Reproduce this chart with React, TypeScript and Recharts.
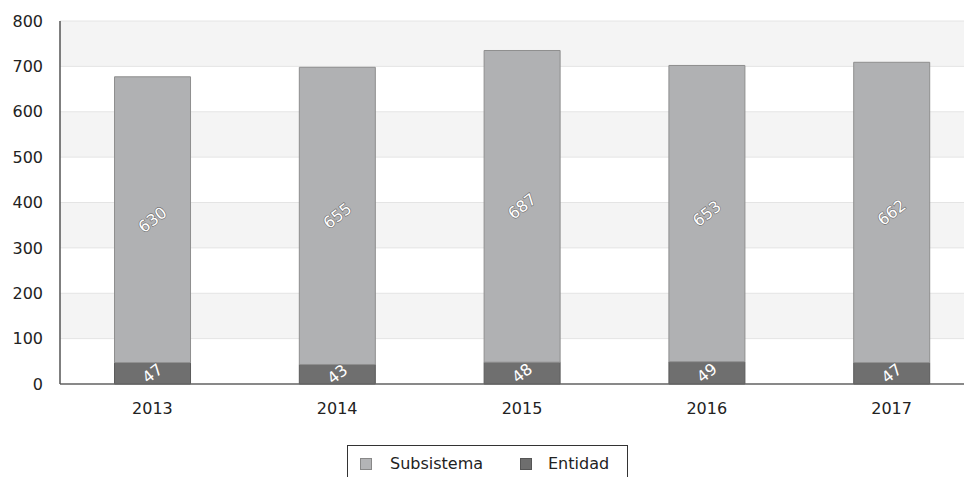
import React from 'react';
import { BarChart, Bar, XAxis, YAxis, CartesianGrid, LabelList } from 'recharts';

const years = ['2013', '2014', '2015', '2016', '2017'];
const entidad = [47, 43, 48, 49, 47];
const subsistema = [630, 655, 687, 653, 662];
const yTicks = [0, 100, 200, 300, 400, 500, 600, 700, 800];

const data = years.map((year, i) => ({ year, entidad: entidad[i], subsistema: subsistema[i] }));

const FONT = '"DejaVu Sans", Verdana, sans-serif';

const RotatedLabel = (props: any) => {
  const { x, y, width, height, value } = props;
  const cx = x + width / 2;
  const cy = y + height / 2;
  return (
    <text
      x={cx}
      y={cy}
      textAnchor="middle"
      dominantBaseline="central"
      transform={`rotate(-38, ${cx}, ${cy})`}
      fontFamily={FONT}
      fontSize={16}
      fill="#ffffff"
      stroke="#707070"
      strokeWidth={1.2}
      paintOrder="stroke"
    >
      {value}
    </text>
  );
};

const LegendBox = () => (
  <div
    style={{
      position: 'absolute',
      left: 347,
      top: 445,
      width: 281,
      height: 44,
      border: '1.5px solid #333',
      boxSizing: 'border-box',
      fontFamily: FONT,
      fontSize: 16,
      color: '#222',
    }}
  >
    <span style={{ position: 'absolute', left: 12, top: 12, width: 10, height: 10, background: '#b3b4b6', border: '1px solid #888' }} />
    <span style={{ position: 'absolute', left: 42, top: 8 }}>Subsistema</span>
    <span style={{ position: 'absolute', left: 172, top: 12, width: 10, height: 10, background: '#6e6e6e', border: '1px solid #555' }} />
    <span style={{ position: 'absolute', left: 200, top: 8 }}>Entidad</span>
  </div>
);

export default function App() {
  return (
    <div style={{ position: 'relative', width: 972, height: 490, overflow: 'hidden', margin: -8, background: '#fff' }}>
      <BarChart
        width={990}
        height={477}
        data={data}
        margin={{ top: 21, right: 6, left: 0, bottom: 63 }}
        barCategoryGap="29.5%"
      >
        <CartesianGrid
          vertical={false}
          stroke="#e4e4e4"
          horizontalFill={['#f4f4f4', '#ffffff']}
          fillOpacity={1}
        />
        <XAxis
          dataKey="year"
          height={30}
          tickLine={false}
          tickSize={0}
          tickMargin={19}
          axisLine={{ stroke: '#666', strokeWidth: 1.5 }}
          tick={{ fill: '#222', fontSize: 16, fontFamily: FONT }}
        />
        <YAxis
          width={60}
          domain={[0, 800]}
          ticks={yTicks}
          tickLine={false}
          tickSize={0}
          tickMargin={17}
          axisLine={{ stroke: '#555', strokeWidth: 1.5 }}
          tick={{ fill: '#222', fontSize: 16, fontFamily: FONT }}
        />
        <Bar dataKey="entidad" stackId="a" fill="#6f6f6f" stroke="#5a5a5a" isAnimationActive={false}>
          <LabelList dataKey="entidad" content={RotatedLabel} />
        </Bar>
        <Bar dataKey="subsistema" stackId="a" fill="#b0b1b3" stroke="#8e8e8e" isAnimationActive={false}>
          <LabelList dataKey="subsistema" content={RotatedLabel} />
        </Bar>
      </BarChart>
      <LegendBox />
    </div>
  );
}
